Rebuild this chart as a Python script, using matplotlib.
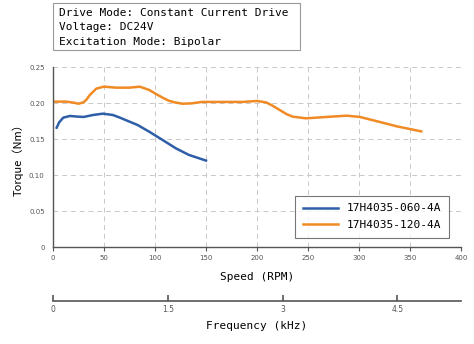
import matplotlib
matplotlib.use("Agg")
import matplotlib.pyplot as plt
from matplotlib.patches import Rectangle

speed_060 = [3.6, 6, 10, 16.6, 23, 30, 39, 49, 58.8, 65, 71.8, 83, 94.5, 107.5, 120.5, 133.4, 150]
torque_060 = [0.1657, 0.173, 0.1796, 0.182, 0.1812, 0.1806, 0.1833, 0.1852, 0.1833, 0.180, 0.176, 0.1694, 0.160, 0.1486, 0.137, 0.1278, 0.120]

speed_120 = [1, 13, 20, 25, 30, 33, 36, 42.5, 50, 62, 75, 85, 94.5, 101, 107.5, 113, 119, 127, 136, 146, 173, 186, 200, 209, 215, 222, 229, 235, 248, 268, 288, 301, 318, 337, 361]
torque_120 = [0.2019, 0.2019, 0.2005, 0.199, 0.201, 0.205, 0.211, 0.220, 0.2227, 0.2213, 0.2213, 0.2227, 0.218, 0.2125, 0.2074, 0.2035, 0.2009, 0.199, 0.1995, 0.2015, 0.2015, 0.2015, 0.2028, 0.2008, 0.1965, 0.1905, 0.1845, 0.181, 0.1787, 0.1806, 0.1824, 0.1806, 0.1745, 0.1676, 0.1606]

labels = ["17H4035-060-4A", "17H4035-120-4A"]
colors = ["#2f5ea8", "#f08a24"]
x_ticks = [0, 50, 100, 150, 200, 250, 300, 350, 400]
y_ticks = [0, 0.05, 0.10, 0.15, 0.20, 0.25]
y_ticklabels = ["0", "0.05", "0.10", "0.15", "0.20", "0.25"]
freq_ticks = [0, 1.5, 3, 4.5]
freq_ticklabels = ["0", "1.5", "3", "4.5"]
info_lines = ["Drive Mode: Constant Current Drive", "Voltage: DC24V", "Excitation Mode: Bipolar"]

mono = "DejaVu Sans Mono"
fig = plt.figure(figsize=(4.74, 3.44), dpi=100)
W, H = 474, 344

def fx(px):
    return px / W

def fy(py):
    return 1 - py / H

ax = fig.add_axes([fx(53), fy(247), fx(461) - fx(53), fy(67) - fy(247)])
ax.plot(speed_060, torque_060, color=colors[0], lw=1.8, label=labels[0], solid_joinstyle="round")
ax.plot(speed_120, torque_120, color=colors[1], lw=1.8, label=labels[1], solid_joinstyle="round")
ax.set_xlim(0, 400)
ax.set_ylim(0, 0.25)
ax.set_xticks(x_ticks)
ax.set_xticklabels([str(t) for t in x_ticks], fontsize=5, color="#555555")
ax.set_yticks(y_ticks)
ax.set_yticklabels(y_ticklabels, fontsize=5, color="#555555")
ax.grid(True, ls=(0, (5, 4)), color="#c8c8c8", lw=0.7)
for s in ["top", "right"]:
    ax.spines[s].set_visible(False)
for s in ["left", "bottom"]:
    ax.spines[s].set_color("#555555")
    ax.spines[s].set_linewidth(1.0)
ax.tick_params(axis="x", length=3, width=0.8, color="#555555", pad=3)
ax.tick_params(axis="y", length=0, pad=6)
ax.set_xlabel("Speed (RPM)", fontsize=8, family=mono, labelpad=8)
ax.set_ylabel("Torque（Nm）", fontsize=8, family=["Noto Sans CJK SC", "DejaVu Sans"], labelpad=4)
leg = ax.legend(loc="lower right", prop={"family": mono, "size": 8}, frameon=True, fancybox=False,
                edgecolor="#555555", handlelength=3.2, borderpad=0.7, labelspacing=0.6,
                bbox_to_anchor=(0.985, 0.02))
leg.get_frame().set_linewidth(0.8)

fax = fig.add_axes([fx(53), fy(301), fx(461) - fx(53), 0.001])
fax.set_xlim(0, 400 / 75)
fax.set_ylim(0, 1)
fax.set_yticks([])
fax.set_xticks(freq_ticks)
fax.set_xticklabels(freq_ticklabels, fontsize=5.5, color="#555555")
for s in ["top", "right", "left"]:
    fax.spines[s].set_visible(False)
fax.spines["bottom"].set_color("#555555")
fax.spines["bottom"].set_linewidth(1.2)
fax.tick_params(axis="x", direction="in", length=4, width=1.2, color="#555555", pad=3)
fax.set_xlabel("Frequency (kHz)", fontsize=8, family=mono, labelpad=5)
fax.patch.set_visible(False)

fig.patches.append(Rectangle((fx(53), fy(50)), fx(300) - fx(53), fy(3) - fy(50),
                             transform=fig.transFigure, fc="white", ec="#999999", lw=0.8))
for i, line in enumerate(info_lines):
    fig.text(fx(59), fy(13 + 14.5 * i), line, family=mono, fontsize=8, va="center", ha="left")

fig.savefig("out.png", dpi=100)
